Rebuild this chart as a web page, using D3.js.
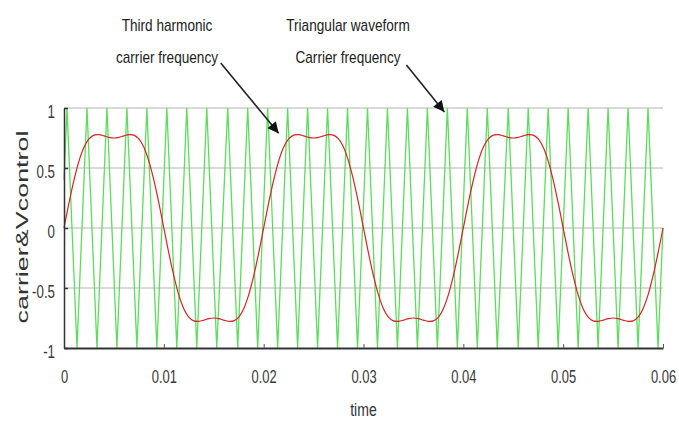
<!DOCTYPE html>
<html><head><meta charset="utf-8">
<script src="https://cdn.jsdelivr.net/npm/d3@7"></script>
<style>body{margin:0;background:#fff}svg{display:block}</style>
</head><body><svg id="c" width="679" height="423"></svg>
<script>
// ---- data ----
const xTicks = [0, 0.01, 0.02, 0.03, 0.04, 0.05, 0.06];
const xTickLabels = ["0", "0.01", "0.02", "0.03", "0.04", "0.05", "0.06"];
const yTicks = [-1, -0.5, 0, 0.5, 1];
const yTickLabels = ["-1", "-0.5", "0", "0.5", "1"];
const gridValues = [-0.5, 0, 0.5, 1];

// triangular carrier: times of the +1 peaks and -1 troughs
const carrierPeakTimes = [0.0003,0.0023,0.0043,0.0063,0.0083,0.0103,0.0123,0.0143,0.0164,0.0184,
  0.0204,0.0224,0.0244,0.0264,0.0284,0.0304,0.0324,0.0344,0.0364,0.0384,
  0.0404,0.0424,0.0445,0.0465,0.0485,0.0505,0.0525,0.0545,0.0565,0.0585];
const carrierTroughTimes = [0.0013,0.0033,0.0053,0.0073,0.0093,0.0113,0.0133,0.0153,0.0174,0.0194,
  0.0214,0.0234,0.0254,0.0274,0.0294,0.0314,0.0334,0.0354,0.0374,0.0394,
  0.0414,0.0434,0.0455,0.0475,0.0495,0.0515,0.0535,0.0555,0.0575,0.0595];
const carrierStart = [0, 0.4];
const carrierEnd = [0.06, 0];

// control signal (third-harmonic injected sine), sampled every 0.0005 s
const controlStep = 0.0005;
const controlValues = [
 0,0.209,0.399,0.557,0.672,0.742,0.774,0.778,0.768,0.755,0.75,0.755,0.768,0.778,0.774,0.742,0.672,0.557,0.399,0.209,
 0,-0.209,-0.399,-0.557,-0.672,-0.742,-0.774,-0.778,-0.768,-0.755,-0.75,-0.755,-0.768,-0.778,-0.774,-0.742,-0.672,-0.557,-0.399,-0.209,
 0,0.209,0.399,0.557,0.672,0.742,0.774,0.778,0.768,0.755,0.75,0.755,0.768,0.778,0.774,0.742,0.672,0.557,0.399,0.209,
 0,-0.209,-0.399,-0.557,-0.672,-0.742,-0.774,-0.778,-0.768,-0.755,-0.75,-0.755,-0.768,-0.778,-0.774,-0.742,-0.672,-0.557,-0.399,-0.209,
 0,0.209,0.399,0.557,0.672,0.742,0.774,0.778,0.768,0.755,0.75,0.755,0.768,0.778,0.774,0.742,0.672,0.557,0.399,0.209,
 0,-0.209,-0.399,-0.557,-0.672,-0.742,-0.774,-0.778,-0.768,-0.755,-0.75,-0.755,-0.768,-0.778,-0.774,-0.742,-0.672,-0.557,-0.399,-0.209,
 0];

// annotations (data coordinates of arrow start and tip)
const annotations = [
  {lines: ["Third harmonic", "carrier frequency"], cx: 167, from: [0.0157, 1.375], to: [0.0215, 0.79]},
  {lines: ["Triangular waveform", "Carrier frequency"], cx: 348, from: [0.0343, 1.358], to: [0.0381, 0.967]}
];

// ---- drawing ----
const svg = d3.select("#c");
const W = 679, H = 423;
const m = {left: 64, right: 16, top: 108, bottom: 75};
const x = d3.scaleLinear().domain([0, 0.06]).range([m.left, W - m.right]);
const y = d3.scaleLinear().domain([-1, 1]).range([H - m.bottom, m.top]);
const font = "'Liberation Sans',Arial,sans-serif";

// condense text horizontally (the original uses a narrow face)
function condense(sel, k) {
  sel.each(function() {
    const len = this.getComputedTextLength();
    d3.select(this).attr("textLength", len * k).attr("lengthAdjust", "spacingAndGlyphs");
  });
}

// grid
svg.append("g").selectAll("line").data(gridValues).join("line")
  .attr("x1", x(0)).attr("x2", x(0.06))
  .attr("y1", d => y(d)).attr("y2", d => y(d))
  .attr("stroke", "#b4b4b4").attr("stroke-width", 1);

// carrier
const carrierPts = [carrierStart]
  .concat(carrierPeakTimes.map(t => [t, 1]))
  .concat(carrierTroughTimes.map(t => [t, -1]))
  .concat([carrierEnd])
  .sort((a, b) => a[0] - b[0]);
svg.append("path").datum(carrierPts)
  .attr("fill", "none").attr("stroke", "#5ddc5d").attr("stroke-width", 1.3)
  .attr("d", d3.line().x(d => x(d[0])).y(d => y(d[1])));

// control
const controlPts = controlValues.map((v, i) => [i * controlStep, v]);
svg.append("path").datum(controlPts)
  .attr("fill", "none").attr("stroke", "#d42424").attr("stroke-width", 1.2)
  .attr("d", d3.line().curve(d3.curveCatmullRom).x(d => x(d[0])).y(d => y(d[1])));

// axes
const xAxis = d3.axisBottom(x).tickValues(xTicks).tickFormat((d, i) => xTickLabels[i])
  .tickSizeInner(-4).tickSizeOuter(0).tickPadding(22);
const gx = svg.append("g").attr("transform", `translate(0,${y(-1)})`).call(xAxis);
gx.select(".domain").attr("stroke", "#333").attr("stroke-width", 2);
gx.selectAll(".tick line").attr("stroke", "#555");
gx.selectAll("text").attr("font-family", font).attr("font-size", 18).attr("fill", "#3a3a3a")
  .attr("transform", "scale(0.72,1)");

const yAxis = d3.axisLeft(y).tickValues(yTicks).tickFormat((d, i) => yTickLabels[i])
  .tickSizeInner(-4).tickSizeOuter(0).tickPadding(9);
const gy = svg.append("g").attr("transform", `translate(${x(0)},0)`).call(yAxis);
gy.select(".domain").attr("stroke", "#333").attr("stroke-width", 1.5);
gy.selectAll(".tick line").attr("stroke", "#333").attr("stroke-width", 1.5);
gy.selectAll("text").attr("font-family", font).attr("font-size", 18).attr("fill", "#3a3a3a").attr("dy", "0.55em").call(condense, 0.74);

// axis titles
svg.append("text").attr("x", x(0.03)).attr("y", 416).attr("text-anchor", "middle")
  .attr("font-family", font).attr("font-size", 18).attr("fill", "#333").text("time").call(condense, 0.78);
svg.append("text").attr("transform", `translate(28,${y(0) - 1}) rotate(-90)`)
  .attr("text-anchor", "middle").attr("font-family", font)
  .attr("font-size", 17).attr("fill", "#333")
  .attr("textLength", 193).attr("lengthAdjust", "spacingAndGlyphs").text("carrier&Vcontrol");

// annotations
svg.append("defs").append("marker").attr("id", "ah")
  .attr("viewBox", "0 0 10 10").attr("refX", 10).attr("refY", 5)
  .attr("markerWidth", 13).attr("markerHeight", 11).attr("markerUnits", "userSpaceOnUse")
  .attr("orient", "auto")
  .append("path").attr("d", "M0,0 L10,5 L0,10 z").attr("fill", "#111");

annotations.forEach(a => {
  a.lines.forEach((s, i) => {
    svg.append("text").attr("x", a.cx).attr("y", 31 + i * 32).attr("text-anchor", "middle")
      .attr("font-family", font).attr("font-size", 17).attr("fill", "#222").text(s).call(condense, 0.8);
  });
  svg.append("line")
    .attr("x1", x(a.from[0])).attr("y1", y(a.from[1]))
    .attr("x2", x(a.to[0])).attr("y2", y(a.to[1]))
    .attr("stroke", "#222").attr("stroke-width", 1.6).attr("marker-end", "url(#ah)");
});
</script></body></html>
